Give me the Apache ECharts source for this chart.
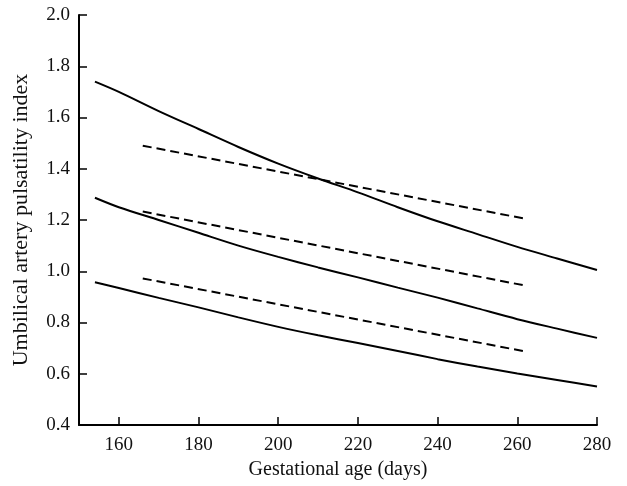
<!DOCTYPE html>
<html>
<head>
<meta charset="utf-8">
<script src="https://cdn.jsdelivr.net/npm/echarts@6/dist/echarts.min.js"></script>
<style>
  html, body { margin: 0; padding: 0; background: #fff; }
  #main { width: 627px; height: 486px; }
</style>
</head>
<body>
<div id="main"></div>
<script>
// gestational age (days) for the solid curves
var solidDays = [154, 160, 170, 180, 190, 200, 210, 220, 230, 240, 250, 260, 270, 280];
var solidUpper = [1.74, 1.70, 1.625, 1.555, 1.485, 1.42, 1.362, 1.308, 1.25, 1.195, 1.145, 1.095, 1.05, 1.005];
var solidMiddle = [1.287, 1.25, 1.20, 1.15, 1.10, 1.056, 1.015, 0.976, 0.936, 0.897, 0.855, 0.813, 0.776, 0.74];
var solidLower = [0.957, 0.935, 0.896, 0.859, 0.82, 0.783, 0.75, 0.72, 0.689, 0.657, 0.628, 0.601, 0.576, 0.55];

// dashed lines (straight)
var dashDays = [166, 262];
var dashUpper = [1.49, 1.205];
var dashMiddle = [1.233, 0.944];
var dashLower = [0.972, 0.687];

var xTicks = [160, 180, 200, 220, 240, 260, 280];

function pairs(xs, ys) {
    var out = [];
    for (var i = 0; i < xs.length; i++) {
        out.push([xs[i], ys[i]]);
    }
    return out;
}

var myChart = echarts.init(document.getElementById('main'));

var serif = 'Liberation Serif';

function solid(ys) {
    return {
        type: 'line',
        data: pairs(solidDays, ys),
        smooth: 0.3,
        showSymbol: false,
        silent: true,
        lineStyle: { color: '#000', width: 2 }
    };
}
function dashed(ys) {
    return {
        type: 'line',
        data: pairs(dashDays, ys),
        showSymbol: false,
        silent: true,
        lineStyle: { color: '#000', width: 2, type: [9, 5] }
    };
}

var option = {
    animation: false,
    grid: { left: 79, right: 30, top: 15, bottom: 61 },
    xAxis: {
        type: 'value',
        min: 150,
        max: 280,
        name: 'Gestational age (days)',
        nameLocation: 'middle',
        nameGap: 31,
        nameTextStyle: { fontFamily: serif, fontSize: 20, color: '#111' },
        axisLine: { lineStyle: { color: '#000', width: 2 } },
        axisTick: { inside: true, length: 8, customValues: xTicks, lineStyle: { color: '#000', width: 1.5 } },
        axisLabel: { customValues: xTicks, margin: 11, fontFamily: serif, fontSize: 19, color: '#111' },
        splitLine: { show: false }
    },
    yAxis: {
        type: 'value',
        min: 0.4,
        max: 2.0,
        interval: 0.2,
        name: 'Umbilical artery pulsatility index',
        nameLocation: 'middle',
        nameGap: 47,
        nameTextStyle: { fontFamily: serif, fontSize: 22, color: '#111' },
        axisLine: { show: true, lineStyle: { color: '#000', width: 2 } },
        axisTick: { show: true, inside: true, length: 8, lineStyle: { color: '#000', width: 1.5 } },
        axisLabel: {
            margin: 9,
            fontFamily: serif,
            fontSize: 19,
            color: '#111',
            formatter: function (v) { return v.toFixed(1); }
        },
        splitLine: { show: false }
    },
    series: [
        solid(solidUpper),
        solid(solidMiddle),
        solid(solidLower),
        dashed(dashUpper),
        dashed(dashMiddle),
        dashed(dashLower)
    ]
};

myChart.setOption(option);
</script>
</body>
</html>
